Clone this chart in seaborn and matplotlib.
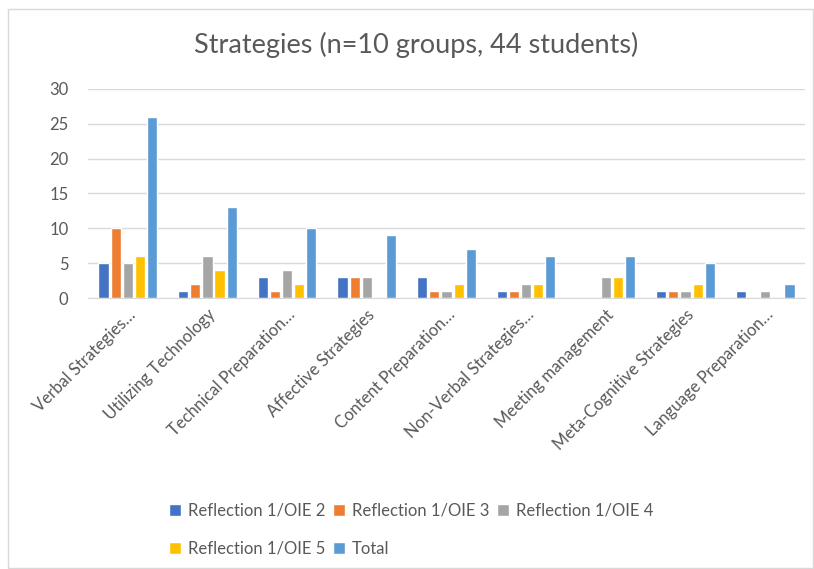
"""
Strategies chart - grouped bars per reflection / OIE
"""

import numpy as np
import pandas as pd
import matplotlib.pyplot as plt
import seaborn as sns
from matplotlib.patches import Rectangle

# categories and series values
categories = ['Verbal Strategies…', 'Utilizing Technology', 'Technical Preparation…',
              'Affective Strategies', 'Content Preparation…', 'Non-Verbal Strategies…',
              'Meeting management', 'Meta-Cognitive Strategies', 'Language Preparation…']
series = ['Reflection 1/OIE 2', 'Reflection 1/OIE 3', 'Reflection 1/OIE 4',
          'Reflection 1/OIE 5', 'Total']
oie2 = [5, 1, 3, 3, 3, 1, 0, 1, 1]
oie3 = [10, 2, 1, 3, 1, 1, 0, 1, 0]
oie4 = [5, 6, 4, 3, 1, 2, 3, 1, 1]
oie5 = [6, 4, 2, 0, 2, 2, 3, 2, 0]
total = [26, 13, 10, 9, 7, 6, 6, 5, 2]
colors = ['#4472C4', '#ED7D31', '#A5A5A5', '#FFC000', '#5B9BD5']

# long format for seaborn
rows = []
for name, vals in zip(series, [oie2, oie3, oie4, oie5, total]):
    for cat, v in zip(categories, vals):
        rows.append({'Strategy': cat, 'Series': name, 'Count': v})
df = pd.DataFrame(rows)

sns.set_style('white')
plt.rcParams['font.family'] = ['Lato', 'DejaVu Sans']
grey = '#595959'

fig = plt.figure(figsize=(8.14, 5.69), dpi=100)
ax = fig.add_axes([0.108, 0.476, 0.881, 0.368])

sns.barplot(data=df, x='Strategy', y='Count', hue='Series', order=categories,
            hue_order=series, palette=colors, width=0.76, gap=0.16,
            saturation=1, ax=ax)

ax.set_ylim(0, 30)
ax.set_yticks(np.arange(0, 31, 5))
ax.yaxis.grid(True, color='#D9D9D9', linewidth=1)
ax.set_axisbelow(True)
ax.set_xlabel('')
ax.set_ylabel('')
for s in ['left', 'right', 'top']:
    ax.spines[s].set_visible(False)
ax.spines['bottom'].set_color('#D9D9D9')
ax.tick_params(axis='both', length=0, colors=grey, labelsize=12)
ax.tick_params(axis='y', pad=14)
plt.setp(ax.get_xticklabels(), rotation=45, ha='right', rotation_mode='anchor')
ax.tick_params(axis='x', pad=6)

fig.text(0.511, 0.921, 'Strategies (n=10 groups, 44 students)', fontsize=19.5,
         color=grey, ha='center', va='center')

# legend: reorder so rows read OIE2, OIE3, OIE4 / OIE5, Total
handles, labels = ax.get_legend_handles_labels()
order = [0, 3, 1, 4, 2]
ax.legend([handles[i] for i in order], [labels[i] for i in order],
          ncol=3, loc='center', bbox_to_anchor=(0.505, 0.069),
          bbox_transform=fig.transFigure, frameon=False, fontsize=12,
          labelcolor=grey, handlelength=0.7, handleheight=0.7,
          handletextpad=0.4, columnspacing=0.5, labelspacing=1.3)

# chart border
fig.patches.append(Rectangle((0.01, 0.002), 0.989, 0.982, transform=fig.transFigure,
                             fill=False, edgecolor='#D9D9D9', linewidth=1))

fig.savefig('out.png', dpi=100)
